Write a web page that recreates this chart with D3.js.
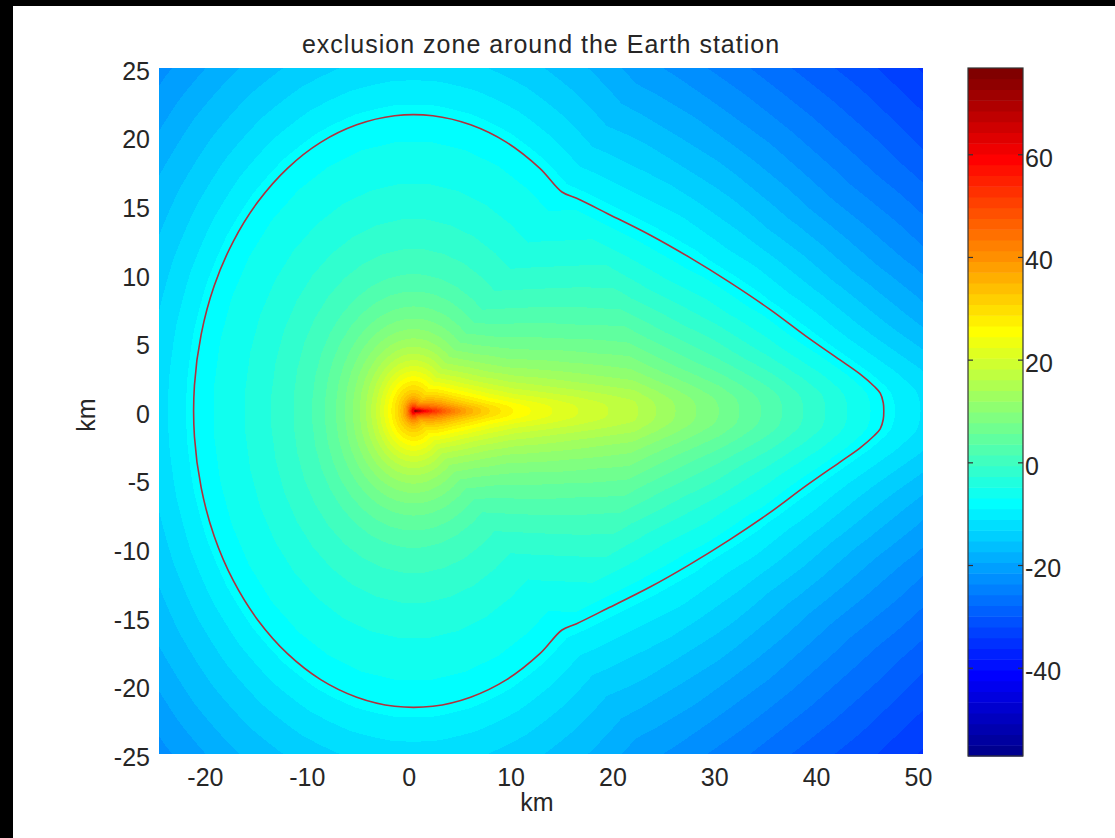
<!DOCTYPE html>
<html><head><meta charset="utf-8">
<script src="https://cdn.jsdelivr.net/npm/d3@7"></script>
<style>
html,body{margin:0;padding:0;background:#fff;}
svg{display:block;}
text{font-family:"Liberation Sans",Arial,sans-serif;fill:#262626;}
</style></head>
<body>
<svg id="chart" width="1115" height="838"></svg>
<script>
// ---------------- data ----------------
const titleText = "exclusion zone around the Earth station";
const xLabelText = "km";
const yLabelText = "km";
const xTicks = [-20, -10, 0, 10, 20, 30, 40, 50];
const yTicks = [-25, -20, -15, -10, -5, 0, 5, 10, 15, 20, 25];
const cTicks = [-40, -20, 0, 20, 40, 60];
const xDomain = [-25, 50];
const yDomain = [-25, 25];
const cDomain = [-57.1, 76.9];
// level (dB) of the red boundary line
const contourLevel = -8;
// boundary of the exclusion zone (km)
const contourX = [46.15, 46.1, 45.8, 45.2, 43.8, 41.85, 38.5, 35, 31, 27, 23.2, 19, 16, 14.56,
  12.39, 9.13, 5.59, 1.88, -1.88, -5.59, -9.13, -12.39, -15.27, -17.69, -19.58, -20.86, -21.52,
  -21.52, -20.86, -19.58, -17.69, -15.27, -12.39, -9.13, -5.59, -1.88, 1.88, 5.59, 9.13, 12.39,
  14.56, 16, 19, 23.2, 27, 31, 35, 38.5, 41.85, 43.8, 45.2, 45.8, 46.1];
const contourY = [0, 0.6, 1.3, 1.8, 2.7, 3.72, 5.46, 7.39, 9.39, 11.23, 12.83, 14.4, 15.5, 15.96,
  17.69, 19.58, 20.86, 21.52, 21.52, 20.86, 19.58, 17.69, 15.27, 12.39, 9.13, 5.59, 1.88,
  -1.88, -5.59, -9.13, -12.39, -15.27, -17.69, -19.58, -20.86, -21.52, -21.52, -20.86, -19.58, -17.69,
  -15.96, -15.5, -14.4, -12.83, -11.23, -9.39, -7.39, -5.46, -3.72, -2.7, -1.8, -1.3, -0.6];
// level profile (dB) versus distance (km) toward the back of the station
const profileKm = [0.15, 0.3, 0.5, 1, 2, 3, 5, 7.5, 10, 15, 21.6, 25, 30, 35, 40, 50, 60];
const profileDb = [62, 53, 46, 36, 28, 22, 13, 6, 1.5, -3.5, -8, -12, -17, -22, -27, -36, -44];

// ---------------- layout ----------------
const W = 1115, H = 838;
const plot = {left: 159, right: 923, top: 68, bottom: 754};
const cbar = {left: 968, right: 1023, top: 68, bottom: 756};
const fontSize = 25;

const svg = d3.select("#chart");
svg.append("rect").attr("width", W).attr("height", H).attr("fill", "#fff");

const x = d3.scaleLinear().domain(xDomain).range([plot.left, plot.right]);
const y = d3.scaleLinear().domain(yDomain).range([plot.bottom, plot.top]);
const c = d3.scaleLinear().domain(cDomain).range([cbar.bottom, cbar.top]);

// MATLAB jet(64)
function jet(m) {
  const n = Math.ceil(m / 4);
  const u = [];
  for (let i = 1; i <= n; i++) u.push(i / n);
  for (let i = 0; i < n - 1; i++) u.push(1);
  for (let i = n; i >= 1; i--) u.push(i / n);
  const off = Math.ceil(n / 2) - (m % 4 === 1 ? 1 : 0);
  const J = d3.range(m).map(() => [0, 0, 0]);
  const g = u.map((_, i) => off + i + 1);
  const r = g.map(v => v + n).filter(v => v <= m);
  const b = g.map(v => v - n).filter(v => v >= 1);
  const gg = g.filter(v => v <= m);
  r.forEach((idx, i) => J[idx - 1][0] = u[i]);
  gg.forEach((idx, i) => J[idx - 1][1] = u[i]);
  b.forEach((idx, i) => J[idx - 1][2] = u[u.length - b.length + i]);
  return J.map(v => v.map(t => Math.round(t * 255)));
}
const jetColors = jet(64);
const colorIndex = d3.scaleQuantize().domain(cDomain).range(d3.range(64));

// boundary radius by angle
const poly = contourX.map((v, i) => [v, contourY[i]]);
const nAng = 1440;
const rcTable = new Float64Array(nAng + 1);
for (let k = 0; k <= nAng; k++) {
  const a = k / nAng * 2 * Math.PI;
  const dx = Math.cos(a), dy = Math.sin(a);
  let best = 0;
  for (let i = 0; i < poly.length; i++) {
    const p = poly[i], q = poly[(i + 1) % poly.length];
    const ex = q[0] - p[0], ey = q[1] - p[1];
    const den = dx * ey - dy * ex;
    if (Math.abs(den) < 1e-12) continue;
    const t = (p[0] * ey - p[1] * ex) / den;
    const s = (p[0] * dy - p[1] * dx) / den;
    if (t > 0 && s >= 0 && s <= 1) best = Math.max(best, t);
  }
  rcTable[k] = best;
}
function rc(a) {
  let f = (a < 0 ? a + 2 * Math.PI : a) / (2 * Math.PI) * nAng;
  const k = Math.floor(f), w = f - k;
  return rcTable[k] * (1 - w) + rcTable[Math.min(k + 1, nAng)] * w;
}
const profile = d3.scaleLog().domain(profileKm).range(profileDb).clamp(true);

function level(xk, yk) {
  const r = Math.max(Math.hypot(xk, yk), profileKm[0]);
  const a = Math.atan2(yk, xk);
  return contourLevel + profile(r) - profile(rc(a));
}

// ---------------- heat map ----------------
const pw = plot.right - plot.left, ph = plot.bottom - plot.top;
const canvas = document.createElement("canvas");
canvas.width = pw; canvas.height = ph;
const ctx = canvas.getContext("2d");
const img = ctx.createImageData(pw, ph);
for (let j = 0; j < ph; j++) {
  const yk = y.invert(plot.top + j + 0.5);
  for (let i = 0; i < pw; i++) {
    const xk = x.invert(plot.left + i + 0.5);
    const col = jetColors[colorIndex(level(xk, yk))];
    const o = (j * pw + i) * 4;
    img.data[o] = col[0]; img.data[o + 1] = col[1]; img.data[o + 2] = col[2]; img.data[o + 3] = 255;
  }
}
ctx.putImageData(img, 0, 0);
svg.append("image").attr("x", plot.left).attr("y", plot.top)
  .attr("width", pw).attr("height", ph)
  .attr("preserveAspectRatio", "none")
  .attr("href", canvas.toDataURL());

// boundary line
svg.append("path")
  .datum(poly)
  .attr("fill", "none")
  .attr("stroke", "#b0303c")
  .attr("stroke-width", 1.6)
  .attr("d", d3.line().x(d => x(d[0])).y(d => y(d[1])).curve(d3.curveCatmullRomClosed.alpha(0.5)));

// axes tick labels
svg.append("g").selectAll("text").data(xTicks).join("text")
  .attr("x", d => x(d) - 4.5).attr("y", 786)
  .attr("text-anchor", "middle").attr("font-size", fontSize)
  .text(d => d);
svg.append("g").selectAll("text").data(yTicks).join("text")
  .attr("x", 150).attr("y", d => y(d) + 3)
  .attr("dy", "0.35em")
  .attr("text-anchor", "end").attr("font-size", fontSize)
  .text(d => d);

// titles
svg.append("text").attr("x", (plot.left + plot.right) / 2).attr("y", 53)
  .attr("text-anchor", "middle").attr("font-size", fontSize)
  .attr("letter-spacing", "1px").text(titleText);
svg.append("text").attr("x", (plot.left + plot.right) / 2 - 4).attr("y", 811)
  .attr("text-anchor", "middle").attr("font-size", fontSize).text(xLabelText);
svg.append("text").attr("transform", `translate(86,${y(0) + 4}) rotate(-90)`)
  .attr("dy", "0.35em")
  .attr("text-anchor", "middle").attr("font-size", fontSize).text(yLabelText);

// ---------------- colour bar ----------------
const step = (cDomain[1] - cDomain[0]) / 64;
svg.append("g").selectAll("rect").data(jetColors).join("rect")
  .attr("x", cbar.left)
  .attr("width", cbar.right - cbar.left)
  .attr("y", (d, i) => c(cDomain[0] + (i + 1) * step))
  .attr("height", (d, i) => c(cDomain[0] + i * step) - c(cDomain[0] + (i + 1) * step) + 0.5)
  .attr("fill", d => `rgb(${d[0]},${d[1]},${d[2]})`);
svg.append("rect").attr("x", cbar.left).attr("y", cbar.top)
  .attr("width", cbar.right - cbar.left).attr("height", cbar.bottom - cbar.top)
  .attr("fill", "none").attr("stroke", "#333").attr("stroke-width", 1.2);
const ct = svg.append("g");
ct.selectAll("line.l").data(cTicks).join("line").attr("class", "l")
  .attr("x1", cbar.left).attr("x2", cbar.left + 5)
  .attr("y1", d => c(d)).attr("y2", d => c(d))
  .attr("stroke", "#333").attr("stroke-width", 1.2);
ct.selectAll("line.r").data(cTicks).join("line").attr("class", "r")
  .attr("x1", cbar.right - 5).attr("x2", cbar.right)
  .attr("y1", d => c(d)).attr("y2", d => c(d))
  .attr("stroke", "#333").attr("stroke-width", 1.2);
ct.selectAll("text").data(cTicks).join("text")
  .attr("x", cbar.right + 2).attr("y", d => c(d) + 3)
  .attr("dy", "0.35em").attr("font-size", fontSize)
  .text(d => d);

// black frame edges of the screenshot
svg.append("rect").attr("x", 0).attr("y", 0).attr("width", W).attr("height", 6).attr("fill", "#000");
svg.append("rect").attr("x", 0).attr("y", 0).attr("width", 13).attr("height", H).attr("fill", "#000");
</script>
</body></html>
